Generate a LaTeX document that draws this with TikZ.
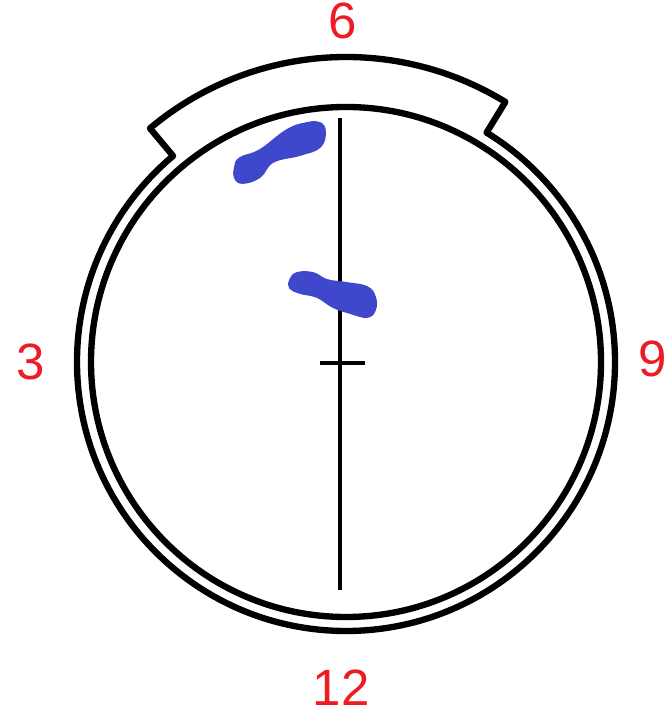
\documentclass[tikz,border=0pt]{standalone}
\usepackage{fontspec}
\setmainfont{Liberation Sans}
\definecolor{blu}{RGB}{63,72,204}
\definecolor{rosso}{RGB}{237,28,36}
\begin{document}
\begin{tikzpicture}[
		x=0.01cm, y=0.01cm, bordo/.style={line width=1.8pt, line cap=round, line join=round, black},
		macchia/.style={fill=blu, draw=blu, line width=0.5pt},
		ora/.style={text=rosso, font=\fontsize{14.5}{17}\selectfont, inner sep=0pt}]
	\useasboundingbox (0,0) rectangle (669,713);
	\def\cx{346}
	\def\cy{351}
	
	%% raggi: cerchio interno, cerchio esterno, bordo della fascia
	\def\rI{255}
	\def\rE{269}
	\def\rB{305}
	\def\aL{130}   %% estremo sinistro della fascia
	\def\aR{58.5}  %% estremo destro della fascia
	
	\begin{scope}[shift={(\cx,\cy)}]
		%% cerchio esterno
		\draw[bordo] (0,0) circle (\rE);
		%% fascia in alto, copre il cerchio esterno
		\fill[white] (\aR:\rI) arc[start angle=\aR, end angle=\aL, radius=\rI]
			-- (\aL:\rB) arc[start angle=\aL, end angle=\aR, radius=\rB] -- cycle;
		\draw[bordo] (\aL:\rE) -- (\aL:\rB) arc[start angle=\aL, end angle=\aR, radius=\rB] -- (\aR:\rE);
		%% cerchio interno
		\draw[bordo] (0,0) circle (\rI);
	\end{scope}
	
	%% asse verticale e tacca al centro
	\draw[line width=1.1pt] (340,595) -- (340,123);
	\draw[line width=1.1pt] (320,350) -- (365,350);
	
	%% macchie blu
	\fill[macchia] plot[smooth cycle, tension=0.7] coordinates {(235,546) (240,555) (260,563) (287,583) (307,590) (320,590) (325,581) (320,566) (300,558) (273,551) (260,536) (243,530) (235,535)};
	\fill[macchia] plot[smooth cycle, tension=0.7] coordinates {(290,433) (297,440) (313,440) (327,433) (347,430) (367,426) (375,416) (375,403) (367,396) (350,400) (333,406) (317,416) (300,420) (290,425)};
	
	%% ore
	\node[ora] (h6) at (343,692) {6};
	\node[ora] (h3) at (31,351) {3};
	\node[ora] (h9) at (653,354) {9};
	\node[ora] (h12) at (341,25) {12};
\end{tikzpicture}
\end{document}
